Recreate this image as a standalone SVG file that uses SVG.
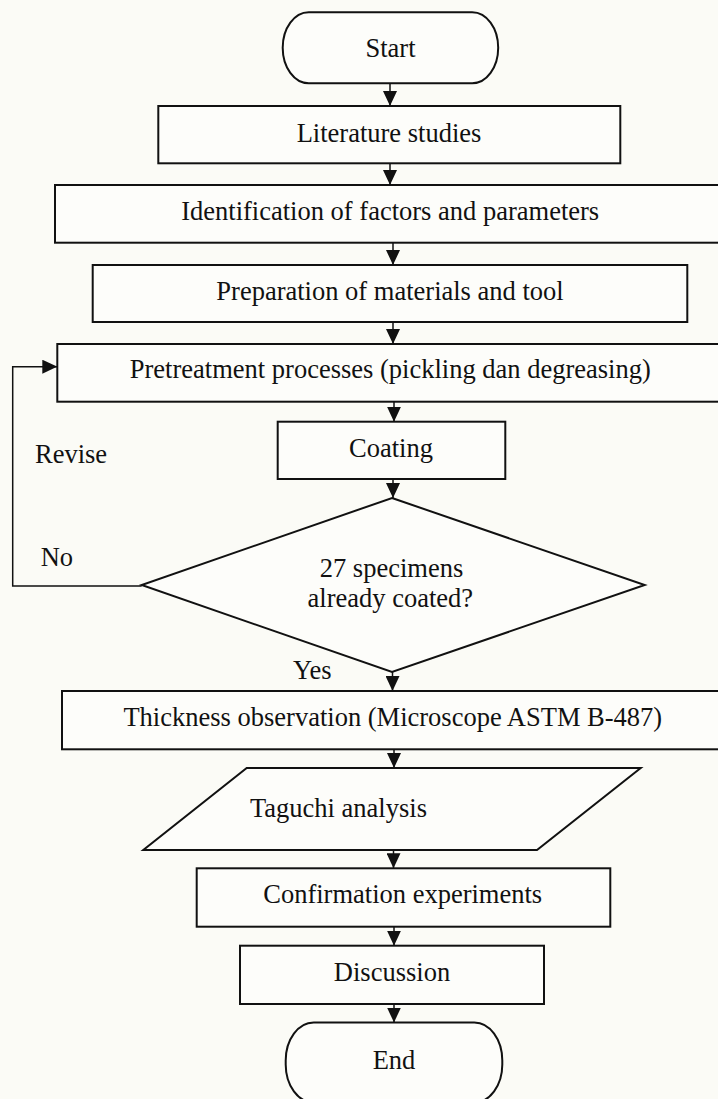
<svg xmlns="http://www.w3.org/2000/svg" width="718" height="1099" viewBox="0 0 718 1099">
<style>
.shape{fill:#fdfdfa;stroke:#111;stroke-width:2}
.conn{fill:none;stroke:#111;stroke-width:1.5}
.t{font-family:"Liberation Serif","Times New Roman",serif;font-size:26.5px;fill:#111}
.m{text-anchor:middle}
</style>
<defs>
<marker id="ah" markerUnits="userSpaceOnUse" markerWidth="15" markerHeight="14" refX="15" refY="7" orient="auto">
<path d="M0,0 L15,7 L0,14 z" fill="#111"/>
</marker>
</defs>
<rect width="718" height="1099" fill="#fbfbf6"/>
<g id="start"><rect class="shape" x="282.7" y="12.3" width="215.5" height="71" rx="26" ry="35.5"/><text class="t m" x="390.5" y="57.3">Start</text></g>
<g id="literature"><rect class="shape" x="158.3" y="106" width="462" height="57.3"/><text class="t m" x="389" y="141.7">Literature studies</text></g>
<g id="identification"><rect class="shape" x="55" y="185" width="680" height="57.7"/><text class="t m" x="390.2" y="220">Identification of factors and parameters</text></g>
<g id="preparation"><rect class="shape" x="92.7" y="265" width="594.6" height="57"/><text class="t m" x="390" y="299.5">Preparation of materials and tool</text></g>
<g id="pretreatment"><rect class="shape" x="57.3" y="344" width="680" height="57.7"/><text class="t m" x="390.3" y="378.3">Pretreatment processes (pickling dan degreasing)</text></g>
<g id="coating"><rect class="shape" x="277.7" y="421.7" width="227.6" height="57.3"/><text class="t m" x="391" y="456.5">Coating</text></g>
<g id="decision"><polygon class="shape" points="392,498 644.7,585 392,672 141.7,585"/><text class="t m" x="391.5" y="576.7">27 specimens</text><text class="t m" x="390.3" y="606.7">already coated?</text></g>
<g id="thickness"><rect class="shape" x="62" y="691" width="680" height="58.3"/><text class="t m" x="392.8" y="725.5">Thickness observation (Microscope ASTM B-487)</text></g>
<g id="taguchi"><polygon class="shape" points="246.7,768 640.7,768 537,850 143.3,850"/><text class="t" x="250" y="817.3">Taguchi analysis</text></g>
<g id="confirmation"><rect class="shape" x="196.7" y="868.3" width="413.6" height="58.4"/><text class="t m" x="402.7" y="903.3">Confirmation experiments</text></g>
<g id="discussion"><rect class="shape" x="240" y="945.7" width="304" height="58.3"/><text class="t m" x="392" y="981">Discussion</text></g>
<g id="end"><rect class="shape" x="285.7" y="1022.5" width="216.6" height="80" rx="28" ry="38"/><text class="t m" x="394" y="1069.3">End</text></g>
<g id="connectors">
<line class="conn" x1="390" y1="83.3" x2="390" y2="106" marker-end="url(#ah)"/>
<line class="conn" x1="390" y1="163.3" x2="390" y2="185" marker-end="url(#ah)"/>
<line class="conn" x1="393" y1="242.7" x2="393" y2="265" marker-end="url(#ah)"/>
<line class="conn" x1="393" y1="322" x2="393" y2="344" marker-end="url(#ah)"/>
<line class="conn" x1="394" y1="401.7" x2="394" y2="421.7" marker-end="url(#ah)"/>
<line class="conn" x1="393" y1="479" x2="393" y2="498" marker-end="url(#ah)"/>
<line class="conn" x1="392.5" y1="672" x2="392.5" y2="691" marker-end="url(#ah)"/>
<line class="conn" x1="394" y1="749.3" x2="394" y2="768" marker-end="url(#ah)"/>
<line class="conn" x1="393.5" y1="850" x2="393.5" y2="868.3" marker-end="url(#ah)"/>
<line class="conn" x1="394" y1="926.7" x2="394" y2="945.7" marker-end="url(#ah)"/>
<line class="conn" x1="394" y1="1004" x2="394" y2="1022.5" marker-end="url(#ah)"/>
<polyline class="conn" points="141.7,586 12.7,586 12.7,366.7 57.3,366.7" marker-end="url(#ah)"/>
<text class="t" x="35" y="462.7">Revise</text>
<text class="t" x="40.7" y="565.7">No</text>
<text class="t" x="293" y="679">Yes</text>
</g>
</svg>
